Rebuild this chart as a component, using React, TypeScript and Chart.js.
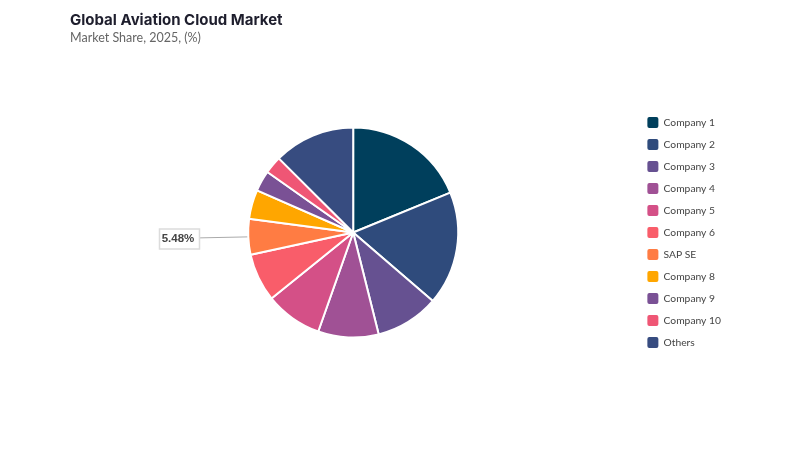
import { useEffect, useRef } from "react";
import { Chart, registerables } from "chart.js";

Chart.register(...registerables);

const categories = ["Company 1", "Company 2", "Company 3", "Company 4", "Company 5", "Company 6", "SAP SE", "Company 8", "Company 9", "Company 10", "Others"];
const shares = [18.8, 17.5, 9.8, 9.3, 8.8, 7.4, 5.48, 4.5, 3.2, 2.7, 12.52];
const colors = ["#003f5c", "#2f4b7c", "#665191", "#a05195", "#d45087", "#f95d6a", "#ff7c43", "#ffa600", "#7a5195", "#ef5675", "#374c80"];
const calloutIndex = 6;
const calloutText = "5.48%";

// label box with a leader line, hanging off one slice
const calloutPlugin = {
  id: "callout",
  afterDatasetsDraw(chart: Chart) {
    const arc: any = chart.getDatasetMeta(0).data[calloutIndex];
    if (!arc) return;
    const mid = (arc.startAngle + arc.endAngle) / 2;
    const ctx = chart.ctx;
    const ex = arc.x + Math.cos(mid) * (arc.outerRadius + 1);
    const ey = arc.y + Math.sin(mid) * (arc.outerRadius + 1);
    ctx.save();
    ctx.strokeStyle = "#aaa";
    ctx.lineWidth = 1;
    ctx.beginPath();
    ctx.moveTo(ex, ey);
    ctx.lineTo(199, ey + 1);
    ctx.stroke();
    ctx.fillStyle = "#fff";
    ctx.strokeStyle = "#dcdcdc";
    ctx.lineWidth = 1.5;
    ctx.beginPath();
    ctx.rect(159.5, ey - 8, 40, 20);
    ctx.fill();
    ctx.stroke();
    ctx.fillStyle = "#444";
    ctx.font = "bold 11.5px 'Liberation Sans', sans-serif";
    ctx.textAlign = "center";
    ctx.textBaseline = "middle";
    ctx.fillText(calloutText, 178, ey + 2);
    ctx.restore();
  },
};

export default function App() {
  const chartRef = useRef<HTMLCanvasElement>(null);

  useEffect(() => {
    if (!chartRef.current) return;
    document.body.style.margin = "0";

    const chart = new Chart(chartRef.current, {
      type: "pie",
      data: {
        labels: categories,
        datasets: [
          {
            data: shares,
            backgroundColor: colors,
            borderColor: "#fff",
            borderWidth: 2,
            radius: 105,
          },
        ],
      },
      options: {
        animation: false,
        responsive: false,
        layout: { padding: { left: 70, top: 11, bottom: 42, right: 69 } },
        plugins: {
          title: {
            display: true,
            text: "Global Aviation Cloud Market",
            align: "start",
            color: "#1e1e2d",
            font: { family: "Inter, sans-serif", size: 15, weight: "bold" },
            padding: { top: 0, bottom: 1 },
          },
          subtitle: {
            display: true,
            text: "Market Share, 2025, (%)",
            align: "start",
            color: "#666",
            font: { family: "Lato, sans-serif", size: 12.5 },
            padding: { top: 0, bottom: 12 },
          },
          legend: {
            position: "right",
            fullSize: false,
            labels: {
              boxWidth: 11,
              boxHeight: 11,
              padding: 11,
              color: "#444",
              font: { family: "Lato, sans-serif", size: 10.3 },
              generateLabels(c: Chart) {
                const items = Chart.overrides.pie.plugins.legend.labels.generateLabels(c);
                return items.map((item: any) => ({ ...item, borderRadius: 2, lineWidth: 0 }));
              },
            },
          },
          tooltip: { enabled: false },
        },
      },
      plugins: [calloutPlugin],
    });

    return () => chart.destroy();
  }, []);

  return <canvas ref={chartRef} width={800} height={450} style={{ display: "block" }}></canvas>;
}
